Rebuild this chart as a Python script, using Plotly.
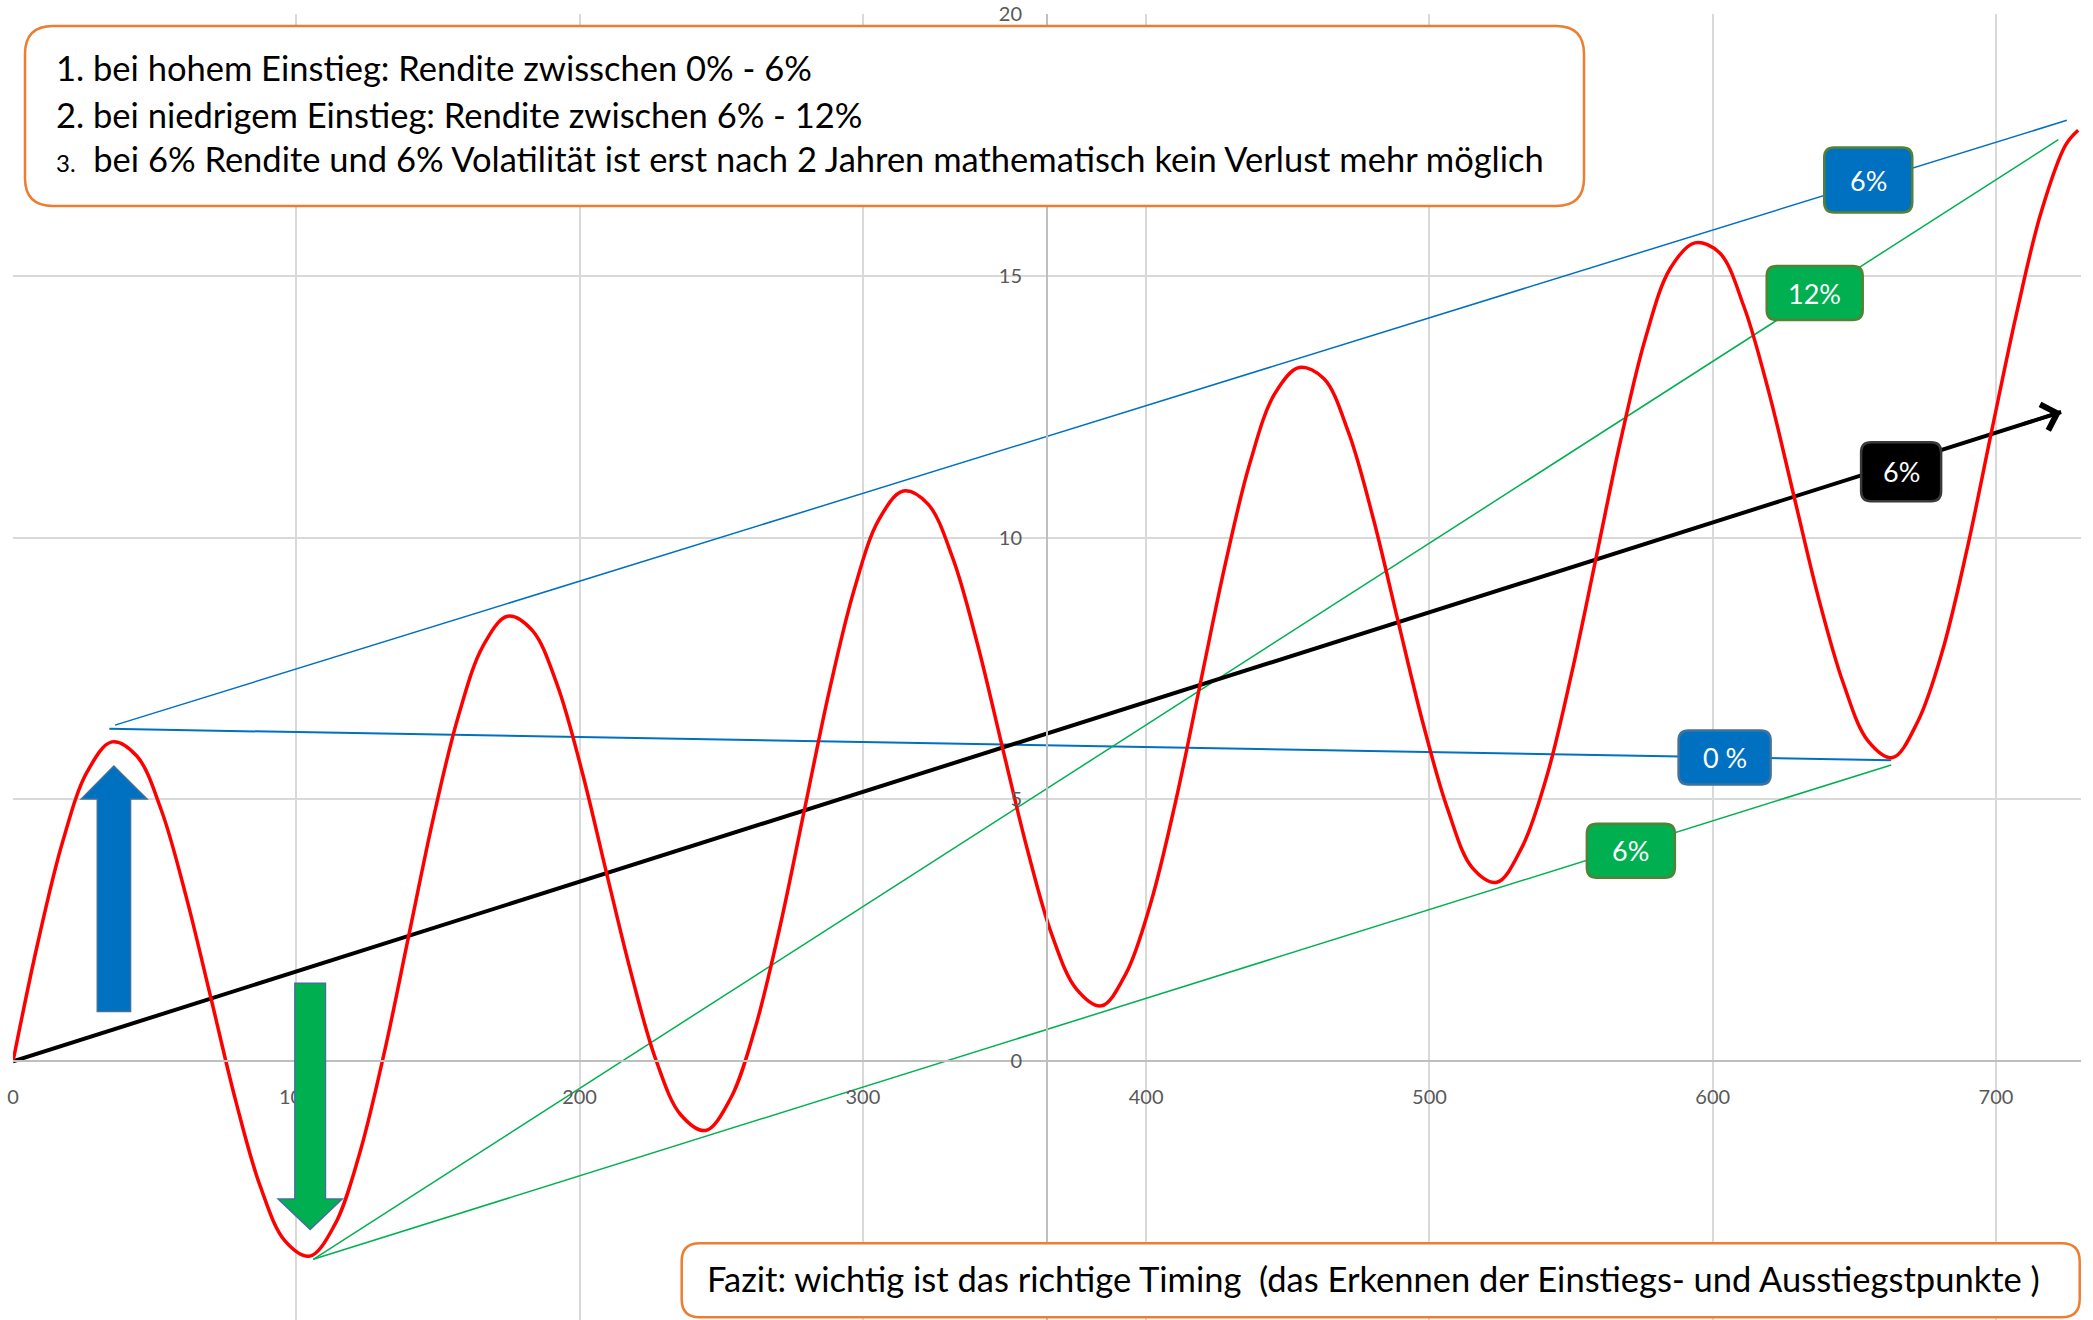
import plotly.graph_objects as go

# ---------------- data ----------------
# red curve: price path with volatility around the 6 % trend
days = [0, 8.7, 17.5, 26.2, 34.9, 43.7, 52.4, 61.1, 69.9, 78.6, 87.3, 96.0,
        104.8, 113.5, 122.2, 131.0, 139.7, 148.4, 157.2, 165.9, 174.6, 183.3,
        192.1, 200.8, 209.5, 218.3, 227.0, 235.7, 244.5, 253.2, 261.9, 270.7,
        279.4, 288.1, 296.9, 305.6, 314.3, 323.0, 331.8, 340.5, 349.2, 358.0,
        366.7, 375.4, 384.2, 392.9, 401.6, 410.4, 419.1, 427.8, 436.5, 445.3,
        454.0, 462.7, 471.5, 480.2, 488.9, 497.7, 506.4, 515.1, 523.8, 532.6,
        541.3, 550.0, 558.8, 567.5, 576.2, 585.0, 593.7, 602.4, 611.1, 619.9,
        628.6, 637.3, 646.1, 654.8, 663.5, 672.3, 681.0, 689.7, 698.4, 707.2,
        715.9, 724.6, 729.0]
price = [0.0, 2.25, 4.19, 5.53, 6.10, 5.83, 4.79, 3.15, 1.20, -0.75, -2.39,
         -3.43, -3.72, -3.13, -1.79, 0.15, 2.40, 4.65, 6.59, 7.93, 8.50, 8.23,
         7.19, 5.55, 3.60, 1.66, 0.02, -1.02, -1.32, -0.72, 0.62, 2.56, 4.81,
         7.06, 9.00, 10.34, 10.89, 10.64, 9.60, 7.96, 6.01, 4.06, 2.42, 1.38,
         1.06, 1.68, 3.02, 4.96, 7.21, 9.46, 11.40, 12.74, 13.25, 13.04, 12.00,
         10.36, 8.41, 6.46, 4.82, 3.70, 3.42, 4.08, 5.42, 7.36, 9.61, 11.86,
         13.80, 15.14, 15.63, 15.44, 14.40, 12.76, 10.81, 8.86, 7.22, 6.12,
         5.80, 6.48, 7.82, 9.76, 12.02, 14.27, 16.21, 17.50, 17.78]

# black trend line (6 %)
trend_x = [0, 723]
trend_y = [0, 12.4]

# blue lines: high entry -> 6 % (upper) and 0 % (flat)
high6_x = [36, 725]
high6_y = [6.42, 17.97]
high0_x = [34, 663]
high0_y = [6.35, 5.75]

# green lines: low entry -> 12 % and 6 %
low12_x = [106, 722]
low12_y = [-3.78, 17.6]
low6_x = [106, 663]
low6_y = [-3.78, 5.66]

x_ticks = [0, 100, 200, 300, 400, 500, 600, 700]
y_ticks = [0, 5, 10, 15, 20]

label_texts = ["6%", "12%", "6%", "0 %", "6%"]

info_lines = [
    "1. bei hohem Einstieg: Rendite zwisschen 0% - 6%",
    "2. bei niedrigem Einstieg: Rendite zwischen 6% - 12%",
    "bei 6% Rendite und 6% Volatilität ist erst nach 2 Jahren mathematisch kein Verlust mehr möglich",
]
fazit = "Fazit: wichtig ist das richtige Timing  (das Erkennen der Einstiegs- und Ausstiegstpunkte )"

# ---------------- style ----------------
FONT = "Lato"
TXT = 34.5
RED = "#FF0000"
BLUE = "#0070C0"
GREEN = "#00B050"
ORANGE = "#ED7D31"
OLIVE = "#548235"
SLATE = "#41719C"

fig = go.Figure()

fig.add_trace(go.Scatter(x=high6_x, y=high6_y, mode="lines",
                         line=dict(color=BLUE, width=1.5), hoverinfo="skip"))
fig.add_trace(go.Scatter(x=high0_x, y=high0_y, mode="lines",
                         line=dict(color=BLUE, width=2), hoverinfo="skip"))
fig.add_trace(go.Scatter(x=low12_x, y=low12_y, mode="lines",
                         line=dict(color=GREEN, width=1.5), hoverinfo="skip"))
fig.add_trace(go.Scatter(x=low6_x, y=low6_y, mode="lines",
                         line=dict(color=GREEN, width=1.5), hoverinfo="skip"))
fig.add_trace(go.Scatter(x=trend_x, y=trend_y, mode="lines",
                         line=dict(color="black", width=4), hoverinfo="skip"))
fig.add_trace(go.Scatter(x=days, y=price, mode="lines",
                         line=dict(color=RED, width=3.5, shape="spline", smoothing=1.0),
                         hoverinfo="skip"))

# arrow head of the trend line
fig.add_annotation(x=trend_x[-1], y=trend_y[-1], xref="x", yref="y",
                   ax=-40, ay=12.7, text="", showarrow=True,
                   arrowhead=4, arrowsize=1.5, arrowwidth=3.5, arrowcolor="black")


def rrect(w, h, r):
    x0, x1, y0, y1 = -w / 2, w / 2, -h / 2, h / 2
    return (f"M{x0 + r},{y0} L{x1 - r},{y0} Q{x1},{y0} {x1},{y0 + r} "
            f"L{x1},{y1 - r} Q{x1},{y1} {x1 - r},{y1} L{x0 + r},{y1} "
            f"Q{x0},{y1} {x0},{y1 - r} L{x0},{y0 + r} Q{x0},{y0} {x0 + r},{y0} Z")


shapes = []
# up / down arrows
shapes.append(dict(type="path", xref="x", yref="y", layer="above",
                   path="M29.75,0.95 L29.75,5.01 L24.1,5.01 L35.6,5.64 L47.3,5.01 L41.5,5.01 L41.5,0.95 Z",
                   fillcolor=BLUE, line=dict(color=SLATE, width=1.5)))
shapes.append(dict(type="path", xref="x", yref="y", layer="above",
                   path="M99.5,1.49 L110.3,1.49 L110.3,-2.63 L116.2,-2.63 L104.9,-3.21 L93.6,-2.63 L99.5,-2.63 Z",
                   fillcolor=GREEN, line=dict(color=SLATE, width=1.5)))

# percentage labels (centre x, centre y, width px, height px, fill, border)
label_boxes = [
    (654.9, 16.83, 88, 65, BLUE, OLIVE),
    (636.0, 14.67, 96, 54, GREEN, OLIVE),
    (666.5, 11.26, 80, 59, "black", "#3A3A3A"),
    (604.2, 5.80, 92, 54, BLUE, SLATE),
    (571.1, 4.02, 88, 54, GREEN, OLIVE),
]
for (cx, cy, w, h, fc, bc), txt in zip(label_boxes, label_texts):
    shapes.append(dict(type="path", xref="x", yref="y", xsizemode="pixel",
                       ysizemode="pixel", xanchor=cx, yanchor=cy,
                       path=rrect(w, h, 10), fillcolor=fc,
                       line=dict(color=bc, width=2.5), layer="above"))
    fig.add_annotation(x=cx, y=cy, xref="x", yref="y", text=txt, showarrow=False,
                       font=dict(family=FONT, size=27, color="white"),
                       xanchor="center", yanchor="middle")

# text boxes
shapes.append(dict(type="path", xref="paper", yref="paper", xsizemode="pixel",
                   ysizemode="pixel", xanchor=0.38274, yanchor=0.92190,
                   path=rrect(1559, 180, 28), fillcolor="white",
                   line=dict(color=ORANGE, width=2.5), layer="above"))
shapes.append(dict(type="path", xref="paper", yref="paper", xsizemode="pixel",
                   ysizemode="pixel", xanchor=0.66136, yanchor=0.03048,
                   path=rrect(1398, 74, 18), fillcolor="white",
                   line=dict(color=ORANGE, width=2.5), layer="above"))

fig.add_annotation(x=0.01963, y=0.9594, xref="paper", yref="paper",
                   text=info_lines[0], showarrow=False, xanchor="left", yanchor="middle",
                   font=dict(family=FONT, size=TXT, color="black"))
fig.add_annotation(x=0.01963, y=0.9234, xref="paper", yref="paper",
                   text=info_lines[1], showarrow=False, xanchor="left", yanchor="middle",
                   font=dict(family=FONT, size=TXT, color="black"))
fig.add_annotation(x=0.01963, y=0.8897, xref="paper", yref="paper",
                   text="<span style='font-size:24px'>3.</span>  " + info_lines[2],
                   showarrow=False, xanchor="left", yanchor="middle",
                   font=dict(family=FONT, size=TXT, color="black"))
fig.add_annotation(x=0.33443, y=0.0314, xref="paper", yref="paper",
                   text=fazit, showarrow=False, xanchor="left", yanchor="middle",
                   font=dict(family=FONT, size=TXT, color="black"))

fig.update_layout(
    width=2093, height=1320,
    margin=dict(l=13, r=12, t=14, b=0, pad=0),
    paper_bgcolor="white", plot_bgcolor="white",
    showlegend=False,
    shapes=shapes,
    xaxis=dict(range=[0, 730], tickvals=x_ticks, showgrid=True,
               gridcolor="#D9D9D9", gridwidth=1.5, zeroline=False,
               showline=True, linecolor="#BFBFBF", linewidth=2,
               anchor="free", position=4.94 / 24.94, ticks="",
               ticklabelstandoff=18, automargin=False,
               tickfont=dict(family=FONT, size=20, color="#595959")),
    yaxis=dict(range=[-4.94, 20], tickvals=y_ticks, showgrid=True,
               gridcolor="#D9D9D9", gridwidth=1.5, zeroline=False,
               showline=True, linecolor="#BFBFBF", linewidth=2,
               anchor="free", position=0.5, ticks="",
               ticklabelstandoff=20, automargin=False,
               tickfont=dict(family=FONT, size=20, color="#595959")),
)

fig.write_html("out.html", config={"displayModeBar": False},
               post_script="document.body.style.margin='0';document.body.style.overflow='hidden';")
